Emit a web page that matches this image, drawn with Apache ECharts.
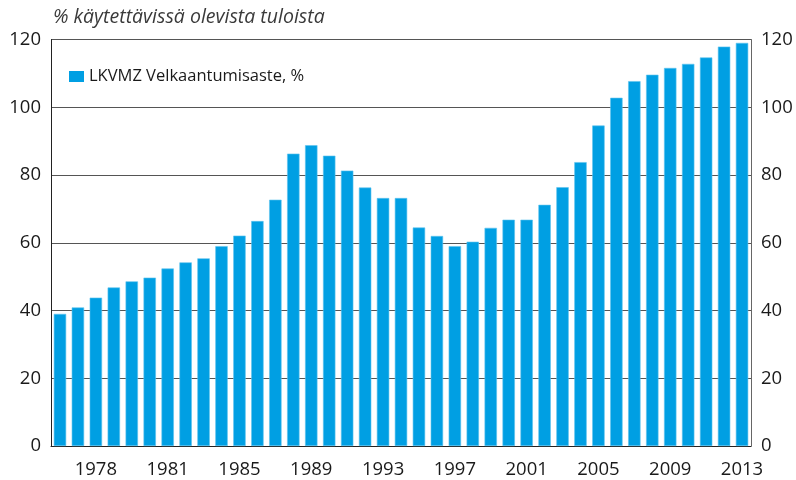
<!DOCTYPE html>
<html>
<head>
<meta charset="utf-8">
<script src="https://cdn.jsdelivr.net/npm/echarts@6/dist/echarts.min.js"></script>
<style>html,body{margin:0;padding:0;background:#fff}#c{width:796px;height:480px}</style>
</head>
<body>
<div id="c"></div>
<script>
const years = [];
for (let y = 1975; y <= 2013; y++) years.push(String(y));
const debtRatio = [39.0, 40.9, 43.8, 46.8, 48.6, 49.7, 52.4, 54.2, 55.4, 59.0,
  62.1, 66.4, 72.7, 86.3, 88.8, 85.7, 81.3, 76.3, 73.2, 73.2,
  64.5, 62.0, 59.0, 60.3, 64.4, 66.8, 66.8, 71.2, 76.4, 83.8,
  94.6, 102.8, 107.7, 109.6, 111.6, 112.8, 114.7, 117.9, 119.0];
const xTickLabels = ['1978', '1981', '1985', '1989', '1993', '1997', '2001', '2005', '2009', '2013'];
const yTicks = [0, 20, 40, 60, 80, 100, 120];
const seriesName = 'LKVMZ Velkaantumisaste, %';
const unitTitle = '% käytettävissä olevista tuloista';

const font = 'Open Sans';
const showAt = (i) => i % 4 === 2;
const chart = echarts.init(document.getElementById('c'), null, {renderer: 'canvas'});
const yAxisCommon = {
  type: 'value', min: yTicks[0], max: yTicks[yTicks.length - 1], interval: 20,
  axisLine: {show: true, lineStyle: {color: '#222', width: 1}},
  axisTick: {show: false},
  axisLabel: {color: '#1a1a1a', fontSize: 18.5, fontFamily: font, margin: 10},
};
chart.setOption({
  animation: false,
  title: {
    text: unitTitle, left: 48, top: 2,
    textStyle: {fontSize: 19.5, fontStyle: 'italic', fontWeight: 'normal', color: '#3a3a3a', fontFamily: font}
  },
  legend: {
    data: [{name: seriesName, itemStyle: {color: '#009fe3', borderWidth: 0, borderColor: '#009fe3'}}],
    left: 64, top: 63, itemWidth: 15, itemHeight: 11, itemGap: 8,
    icon: 'rect',
    textStyle: {fontSize: 16.5, color: '#1a1a1a', fontFamily: font}
  },
  grid: {left: 51, right: 45, top: 39.5, bottom: 34, containLabel: false},
  xAxis: {
    type: 'category', data: years, boundaryGap: true,
    axisLine: {lineStyle: {color: '#222', width: 1}},
    axisTick: {interval: (i) => showAt(i), alignWithLabel: true, length: 6, lineStyle: {color: '#444'}},
    axisLabel: {
      interval: (i) => showAt(i),
      formatter: (v, i) => xTickLabels[(i - 2) / 4],
      color: '#1a1a1a', fontSize: 18.5, fontFamily: font, margin: 14
    }
  },
  yAxis: [
    Object.assign({}, yAxisCommon, {
      position: 'left',
      splitLine: {show: true, lineStyle: {color: '#555', width: 1}}
    }),
    Object.assign({}, yAxisCommon, {
      position: 'right',
      axisLine: {show: true, lineStyle: {color: '#666', width: 1}},
      splitLine: {show: false}
    })
  ],
  series: [{
    name: seriesName, type: 'bar', data: debtRatio, yAxisIndex: 0,
    barCategoryGap: '31%',
    itemStyle: {color: '#009fe3', borderColor: '#5cc2ef', borderWidth: 0.6}
  }]
});
</script>
</body>
</html>
